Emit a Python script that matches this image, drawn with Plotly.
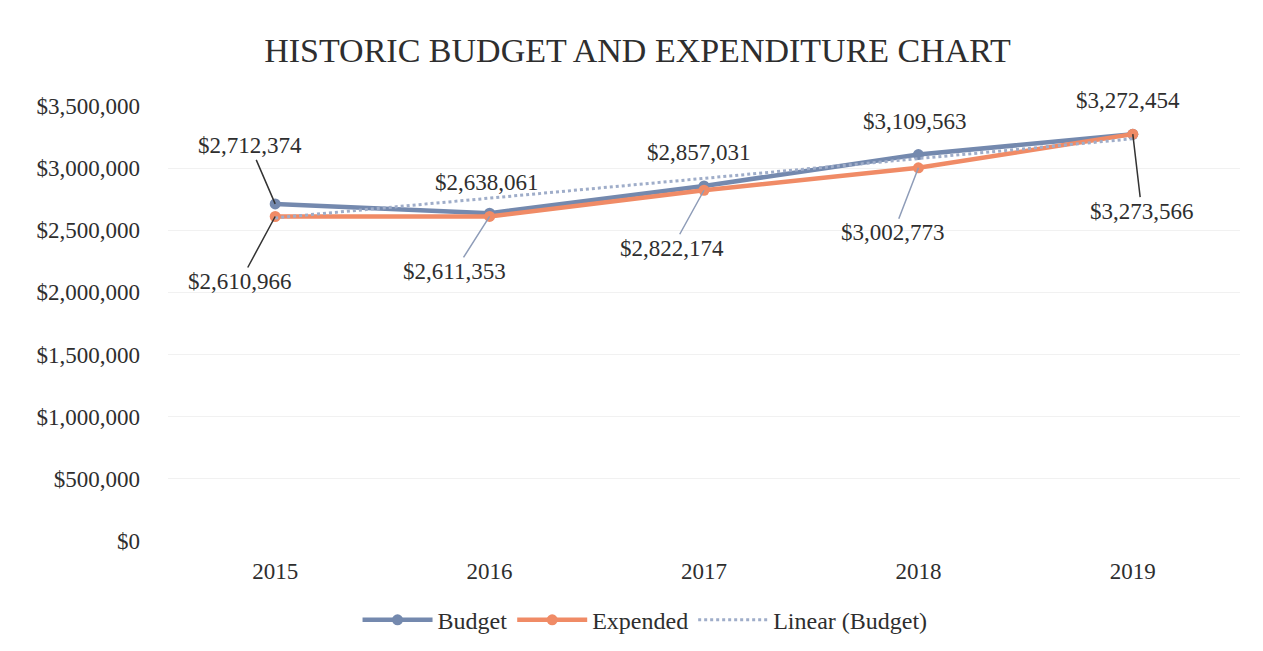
import plotly.graph_objects as go

years = ["2015", "2016", "2017", "2018", "2019"]
budget = [2712374, 2638061, 2857031, 3109563, 3272454]
expended = [2610966, 2611353, 2822174, 3002773, 3273566]
trend_budget = [2599564, 2758730, 2917897, 3077063, 3236229]
y_ticks = [0, 500000, 1000000, 1500000, 2000000, 2500000, 3000000, 3500000]
y_tick_labels = ["$0", "$500,000", "$1,000,000", "$1,500,000", "$2,000,000",
                 "$2,500,000", "$3,000,000", "$3,500,000"]

FONT = "Liberation Serif"
BLUE = "#7489ae"
ORANGE = "#f08b66"
TREND = "#9fadc9"
TXT = "#2e2e2e"

fig = go.Figure()
fig.add_trace(go.Scatter(x=years, y=budget, mode="lines+markers", name="Budget",
                         line=dict(color=BLUE, width=4.5),
                         marker=dict(size=11, color=BLUE)))
fig.add_trace(go.Scatter(x=years, y=expended, mode="lines+markers", name="Expended",
                         line=dict(color=ORANGE, width=4.5),
                         marker=dict(size=11, color=ORANGE)))
fig.add_trace(go.Scatter(x=years, y=trend_budget, mode="lines", name="Linear (Budget)",
                         line=dict(color=TREND, width=3, dash="dot")))

def fmt(v):
    return "${:,}".format(v)

# label styling: (ax, ay, arrow, arrowcolor) for each point
budget_lbl = [(-25, -58, True, "#333333"), (-3, -31, False, None), (-5, -33, False, None),
              (-3, -33, False, None), (-5, -34, False, None)]
exp_lbl = [(-35, 65, True, "#333333"), (-35, 55, True, "#8e9cb8"), (-32, 58, True, "#8e9cb8"),
           (-25, 65, True, "#8e9cb8"), (9, 77, True, "#333333")]

for series, lbls in ((budget, budget_lbl), (expended, exp_lbl)):
    for i, (v, (ax, ay, arr, col)) in enumerate(zip(series, lbls)):
        if arr:
            fig.add_annotation(x=i, y=v, xref="x", yref="y", text=fmt(v), showarrow=True,
                               arrowhead=0, arrowwidth=1.5, arrowcolor=col, ax=ax, ay=ay,
                               font=dict(family=FONT, size=23, color=TXT))
        else:
            fig.add_annotation(x=i, y=v, xref="x", yref="y", text=fmt(v), showarrow=False,
                               xshift=ax, yshift=-ay,
                               font=dict(family=FONT, size=23, color=TXT))

fig.update_layout(
    width=1263, height=651,
    paper_bgcolor="white", plot_bgcolor="white",
    margin=dict(l=160, r=31, t=98, b=118),
    title=dict(text="HISTORIC BUDGET AND EXPENDITURE CHART", x=0.4984, xanchor="center",
               y=0.9355, yanchor="middle",
               font=dict(family=FONT, size=34, color=TXT)),
    font=dict(family=FONT, size=22, color=TXT),
    legend=dict(orientation="h", x=0.445, xanchor="center", y=-0.182, yanchor="middle",
                traceorder="normal", itemwidth=70,
                font=dict(family=FONT, size=24, color=TXT)),
    showlegend=True,
)
fig.update_xaxes(type="category", range=[-0.5, 4.5], showgrid=False, showline=False,
                 ticks="", ticklabelstandoff=14,
                 tickfont=dict(family=FONT, size=23, color=TXT))
fig.update_yaxes(range=[0, 3500000], tickvals=y_ticks, ticktext=y_tick_labels,
                 showgrid=True, gridcolor="#f1f1f1", gridwidth=1, zeroline=False,
                 showline=False, ticks="", ticklabelstandoff=27,
                 tickfont=dict(family=FONT, size=23, color=TXT))

fig.write_html("out.html")
